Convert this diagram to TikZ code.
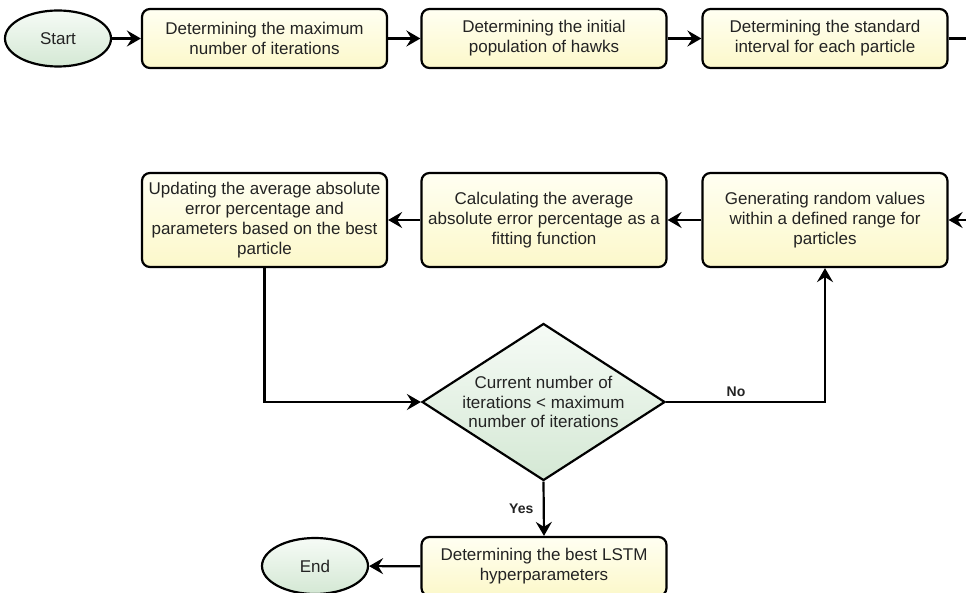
\documentclass[tikz,border=0pt]{standalone}
\usepackage{fontspec}
\setmainfont{Liberation Sans}
\usetikzlibrary{shapes.geometric,arrows.meta}

\definecolor{boxtop}{RGB}{255,255,242}
\definecolor{boxbot}{RGB}{252,248,202}
\definecolor{termtop}{RGB}{246,251,246}
\definecolor{termbot}{RGB}{212,232,212}
\definecolor{inktext}{RGB}{35,35,35}

\begin{document}
\begin{tikzpicture}[x=1pt, y=1pt,
    procbox/.style={draw, line width=2.2pt, rounded corners=8pt,
        top color=boxtop, bottom color=boxbot, text=inktext,
        minimum width=245pt, align=center, inner sep=1pt,
        font=\fontsize{17}{19.8}\selectfont},
    termnode/.style={ellipse, draw, line width=2.2pt,
        top color=termtop, bottom color=termbot, text=inktext,
        minimum width=106pt, minimum height=56pt, inner sep=0pt,
        font=\fontsize{17}{19.8}\selectfont},
    decide/.style={diamond, draw, line width=2.2pt,
        top color=termtop, bottom color=termbot,
        minimum width=243pt, minimum height=157pt, inner sep=0pt},
    flow/.style={line width=2.2pt, -{Stealth[length=14pt, width=16pt, inset=5pt]}},
    tag/.style={text=inktext, font=\bfseries\fontsize{14}{16}\selectfont}]

    % page frame
    \useasboundingbox (0,0) rectangle (966,-593);

    % first row
    \node[termnode] (start) at (58,-38.5) {Start};
    \node[procbox, minimum height=59pt] (maxit) at (264.5,-38.5)
        {Determining the maximum\\number of iterations};
    \node[procbox, minimum height=59pt] (hawks) at (544,-38.5)
        {Determining the initial\\population of hawks};
    \node[procbox, minimum height=59pt] (interval) at (825,-38.5)
        {Determining the standard\\interval for each particle};
    \coordinate (toprt) at (966,-38.5);

    % second row
    \node[procbox, minimum height=94pt] (update) at (264.5,-220)
        {Updating the average absolute\\error percentage and\\parameters based on the best\\particle};
    \node[procbox, minimum height=94pt] (fitness) at (544,-220)
        {Calculating the average\\absolute error percentage as a\\fitting function};
    \node[procbox, minimum height=94pt] (randval) at (825,-220)
        {Generating random values\\within a defined range for\\particles};
    \coordinate (midrt) at (966,-220);

    % decision and end
    \node[decide] (check) at (543.5,-402) {};
    \node[align=center, text=inktext, font=\fontsize{17}{19.8}\selectfont]
        (checktxt) at (check.center)
        {Current number of\\iterations < maximum\\number of iterations};
    \node[procbox, minimum height=59pt] (best) at (544,-566.5)
        {Determining the best LSTM\\hyperparameters};
    \node[termnode] (finish) at (315,-566) {End};

    % connectors
    \draw[flow] (start) -- (maxit);
    \draw[flow] (maxit) -- (hawks);
    \draw[flow] (hawks) -- (interval);
    \draw[line width=2.2pt] (interval) -- (toprt);
    \draw[flow] (midrt) -- (randval);
    \draw[flow] (randval) -- (fitness);
    \draw[flow] (fitness) -- (update);
    \draw[flow] (update.south) |- (check.west);
    \draw[flow] (check.east) -| (randval.south)
        node[tag, pos=0.22, above=1pt] {No};
    \draw[flow] (check.south) -- (best.north)
        node[tag, midway, left=6pt] {Yes};
    \draw[flow] (best) -- (finish);
\end{tikzpicture}
\end{document}
